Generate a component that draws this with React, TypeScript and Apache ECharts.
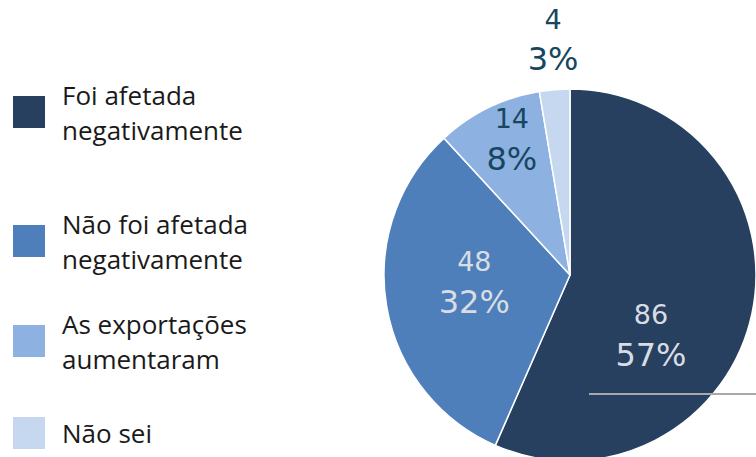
import React, { useEffect, useRef } from "react";
import * as echarts from "echarts";

const categories = [
  "Foi afetada negativamente",
  "Não foi afetada negativamente",
  "As exportações aumentaram",
  "Não sei",
];
const legendLines = [
  "Foi afetada\nnegativamente",
  "Não foi afetada\nnegativamente",
  "As exportações\naumentaram",
  "Não sei",
];
const values = [86, 48, 14, 4];
const percentLabels = ["57%", "32%", "8%", "3%"];
const colors = ["#274060", "#4e7fba", "#8db2e1", "#c5d8ef"];
const labelColors = ["#d8dde4", "#d8dde4", "#174760", "#174760"];
const labelOffsets = [
  [-13, 40],
  [-1, -9],
  [-16, -50],
  [-9, -140],
];
const legendTops = [77, 206, 306, 415];

export default function App() {
  const ref = useRef<HTMLDivElement>(null);
  useEffect(() => {
    document.body.style.margin = "0";
    const chart = echarts.init(ref.current!, null, { renderer: "svg" });
    const labelFont = "'DejaVu Sans', sans-serif";
    chart.setOption({
      animation: false,
      legend: categories.map((name, i) => ({
        data: [name],
        left: 11,
        top: legendTops[i],
        padding: 0,
        orient: "vertical",
        icon: "rect",
        itemWidth: 34,
        itemHeight: 34,
        selectedMode: false,
        formatter: () => legendLines[i],
        textStyle: {
          fontFamily: "'Open Sans', sans-serif",
          fontSize: 26,
          lineHeight: 35,
          color: "#1a1a1a",
          padding: [0, 0, 0, 11],
        },
      })),
      series: [
        {
          type: "pie",
          center: [570, 275],
          radius: 186,
          startAngle: 90,
          clockwise: true,
          silent: true,
          itemStyle: { borderColor: "#ffffff", borderWidth: 1.5 },
          labelLine: { show: false },
          data: categories.map((name, i) => ({
            name,
            value: values[i],
            itemStyle: { color: colors[i] },
            label: {
              show: true,
              position: "inside",
              offset: labelOffsets[i],
              formatter: `{v|${values[i]}}\n{p|${percentLabels[i]}}`,
              rich: {
                v: {
                  fontFamily: labelFont,
                  fontSize: 27,
                  lineHeight: 40,
                  color: labelColors[i],
                  align: "center",
                },
                p: {
                  fontFamily: labelFont,
                  fontSize: 32,
                  lineHeight: 40,
                  color: labelColors[i],
                  align: "center",
                },
              },
            },
          })),
        },
      ],
      graphic: [
        {
          type: "line",
          z: 100,
          shape: { x1: 589, y1: 394, x2: 756, y2: 394 },
          style: { stroke: "#a8a8a8", lineWidth: 2 },
        },
      ],
    });
    return () => chart.dispose();
  }, []);
  return <div ref={ref} style={{ width: 756, height: 457 }} />;
}
